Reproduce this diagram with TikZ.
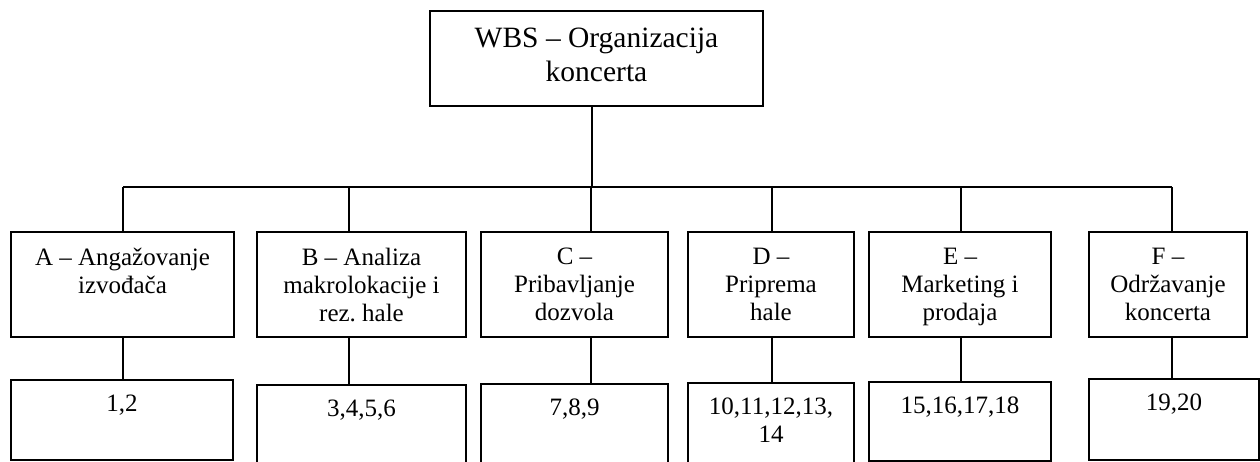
\documentclass[tikz,border=0pt]{standalone}
\usepackage{fontspec}
\setmainfont{Liberation Serif}
\frenchspacing
\usetikzlibrary{positioning}
\tikzset{
  wbsbox/.style={draw, line width=1.4pt, inner sep=0pt},
  wbstext/.style={anchor=north, align=center, inner sep=0pt,
    font=\fontsize{25}{28}\selectfont},
  wbsline/.style={line width=1.4pt}
}
\begin{document}
\begin{tikzpicture}[x=1pt,y=-1pt]
\useasboundingbox (0,0) rectangle (1260,462);
\clip (0,0) rectangle (1260,462);
% vrh
\node[wbsbox, minimum width=333, minimum height=95] (wbs) at (596.5,58.5) {};
\node[wbstext, font=\fontsize{29.5}{34}\selectfont, below=17.5pt of wbs.north] (wbst)
  {WBS -- Organizacija\\koncerta};
\coordinate (bus) at (592,187);
\draw[wbsline] (wbs.south -| bus) -- (bus);
% drugi nivo
\foreach \n/\l/\r/\cx/\t in {A/11/234/123/{A -- Angažovanje\\izvođača},
    B/257/466/349/{B -- Analiza\\makrolokacije i\\rez. hale},
    C/481/668/591/{C --\\Pribavljanje\\dozvola},
    D/688/854/772/{D --\\Priprema\\hale},
    E/869/1051/961/{E --\\Marketing i\\prodaja},
    F/1089/1247/1172/{F --\\Održavanje\\koncerta}}{
  \node[wbsbox, minimum width=\r-\l, minimum height=105] (\n) at ({(\l+\r)/2},284.5) {};
  \node[wbstext, below=16.5pt of \n.north] (\n-t) {\t};
  \coordinate (\n-c) at (\cx,187);
}
\draw[wbsline] (A-c) -- (F-c);
\foreach \n in {A,B,C,D,E,F}
  \draw[wbsline] (\n-c) -- (\n-c |- \n.north);
% treci nivo
\foreach \n/\l/\r/\tp/\bt/\t in {A/11/233/380/460/{1,2},
    B/257/466/385/475/{3,4,5,6},
    C/481/668/384/475/{7,8,9},
    D/688/854/383/475/{10,11,12,13,\\14},
    E/869/1051/382/461/{15,16,17,18},
    F/1089/1259/379/460/{19,20}}{
  \node[wbsbox, minimum width=\r-\l, minimum height=\bt-\tp] (\n-3) at ({(\l+\r)/2},{(\tp+\bt)/2}) {};
  \node[wbstext, below=15pt of \n-3.north] (\n-3t) {\t};
  \draw[wbsline] (\n.south -| \n-c) -- (\n-3.north -| \n-c);
}
\end{tikzpicture}
\end{document}
